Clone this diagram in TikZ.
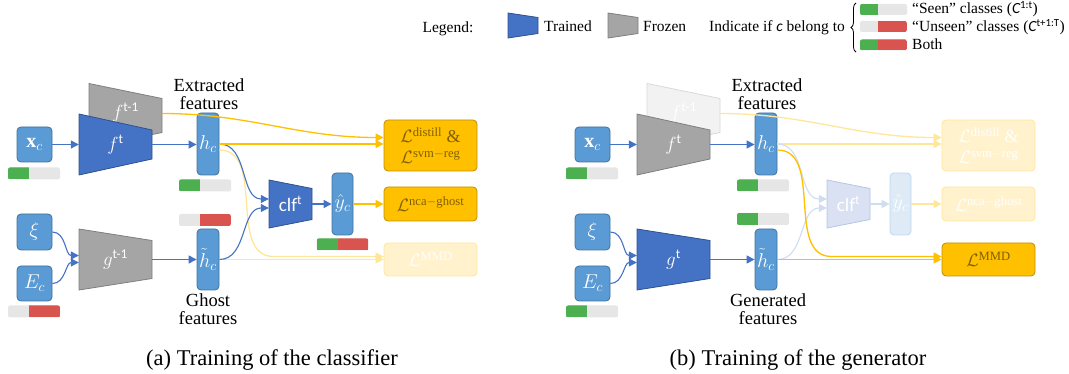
\RequirePackage{fix-cm}
\documentclass[tikz,border=0pt]{standalone}
\usepackage{amsmath}
\usepackage{fontspec}
\setmainfont{Liberation Serif}
\newfontfamily\calibri{Carlito}
\usetikzlibrary{arrows.meta}
\usetikzlibrary{positioning}
\usetikzlibrary{decorations.pathreplacing}

\definecolor{boxblue}{HTML}{5B9BD5}
\definecolor{boxedge}{HTML}{41719C}
\definecolor{trainblue}{HTML}{4472C4}
\definecolor{trainedge}{HTML}{2F528F}
\definecolor{frozgray}{HTML}{A5A5A5}
\definecolor{frozedge}{HTML}{7F7F7F}
\definecolor{lossfill}{HTML}{FFC000}
\definecolor{lossedge}{HTML}{BF9000}
\definecolor{losstext}{HTML}{7F6000}
\definecolor{fadefill}{HTML}{FFF2CC}
\definecolor{fadeedge}{HTML}{FFE699}
\definecolor{fadegrayfill}{HTML}{F2F2F2}
\definecolor{fadegrayedge}{HTML}{D9D9D9}
\definecolor{fadeclffill}{HTML}{D9E1F2}
\definecolor{fadeclfedge}{HTML}{B4C7E7}
\definecolor{fadebluefill}{HTML}{DEEBF7}
\definecolor{fadeblueedge}{HTML}{BDD7EE}
\definecolor{fadeline}{HTML}{D0DCF0}
\definecolor{cgreen}{HTML}{4CAF50}
\definecolor{cred}{HTML}{D9534F}
\definecolor{bargray}{HTML}{E7E6E6}

% trapezoid block: style, name, centre, half width, left half height, right half height, text
\newcommand{\netblock}[7]{%
  \filldraw[#1] #3 ++(-#4,-#5) -- ++(2*#4,#5-#6) -- ++(0,2*#6) -- ++(-2*#4,#5-#6) -- cycle;
  \node[nettext, minimum width=2*#4, minimum height=2*#6] (#2) at #3 {#7};}

\tikzset{
  inbox/.style={draw=boxedge, fill=boxblue, line width=0.8pt, rounded corners=4pt,
    minimum width=35pt, minimum height=35pt, inner sep=0pt, text=white,
    font=\fontsize{20}{20}\selectfont},
  featbox/.style={inbox, minimum width=22pt, minimum height=62pt},
  fadefeat/.style={featbox, draw=fadeblueedge, fill=fadebluefill},
  lossbox/.style={draw=lossedge, fill=lossfill, line width=0.8pt, rounded corners=4pt,
    minimum width=93pt, minimum height=34pt, inner sep=0pt, text=losstext, align=center,
    font=\fontsize{18}{21}\selectfont},
  fadeloss/.style={lossbox, draw=fadeedge, fill=fadefill, text=white},
  nettext/.style={inner sep=0pt, text=white, font=\fontsize{19}{19}\selectfont},
  trained/.style={fill=trainblue, draw=trainedge, line width=0.8pt},
  frozen/.style={fill=frozgray, draw=frozedge, line width=0.8pt},
  fadenet/.style={fill=fadegrayfill, draw=fadegrayedge, line width=0.8pt},
  fadeclf/.style={fill=fadeclffill, draw=fadeclfedge, line width=0.8pt},
  flow/.style={draw=trainblue, line width=1.1pt, -{Triangle[length=8pt,width=8pt]}},
  fadeflow/.style={flow, draw=fadeline},
  lossflow/.style={draw=lossfill, line width=1.3pt, -{Triangle[length=8pt,width=8pt]}},
  fadelossflow/.style={lossflow, draw=fadeedge},
  bar/.style={fill=bargray, rounded corners=2pt, minimum width=52pt, minimum height=12pt,
    inner sep=0pt},
  seen/.style={bar, path picture={\fill[cgreen, sharp corners]
    (path picture bounding box.north west) rectangle ([xshift=#1]path picture bounding box.south west);}},
  seen/.default=21pt,
  unseen/.style={bar, path picture={\fill[cred, sharp corners]
    ([xshift=#1]path picture bounding box.north west) rectangle (path picture bounding box.south east);}},
  unseen/.default=21pt,
  both/.style={bar, path picture={\fill[cgreen, sharp corners]
    (path picture bounding box.north west) rectangle ([xshift=#1]path picture bounding box.south west);
    \fill[cred, sharp corners]
    ([xshift=#1]path picture bounding box.north west) rectangle (path picture bounding box.south east);}},
  both/.default=21pt,
  feattext/.style={align=center, inner sep=0pt, font=\fontsize{18.5}{17.5}\selectfont},
  legtext/.style={inner sep=0pt, font=\fontsize{15.5}{15.5}\selectfont},
  captext/.style={inner sep=0pt, font=\fontsize{22.5}{22.5}\selectfont},
}

\begin{document}
\begin{tikzpicture}[x=1pt, y=-1pt]
  \useasboundingbox (0,0) rectangle (1069,374);

  % legend
  \node[legtext, anchor=base] (leg) at (448,32.5) {Legend:};
  \netblock{trained}{legtrain}{(523,25.5)}{15}{12.5}{8}{};
  \node[legtext, anchor=base west] (legtraintxt) at (544,31.5) {Trained};
  \netblock{frozen}{legfroz}{(623,25.5)}{15}{12.5}{8}{};
  \node[legtext, anchor=base west] (legfroztxt) at (643,31.5) {Frozen};
  \node[legtext, anchor=base east] (legind) at (845,32) {Indicate if {\calibri\itshape c} belong to};
  \draw[line width=0.8pt, decorate, decoration={brace, amplitude=5pt}] (856,52) -- (856,3);
  \node[seen=18pt, minimum width=47pt, minimum height=11pt] (legseen) at (883.5,9.5) {};
  \node[unseen=18pt, minimum width=47pt, minimum height=11pt] (legunseen) at (883.5,26.5) {};
  \node[both=18pt, minimum width=47pt, minimum height=11pt] (legboth) at (883.5,45) {};
  \node[legtext, anchor=base west] (legseentxt) at (912,14)
    {“Seen” classes ({\calibri\itshape C}\textsuperscript{\calibri 1:t})};
  \node[legtext, anchor=base west] (legunseentxt) at (912,32)
    {“Unseen” classes ({\calibri\itshape C}\textsuperscript{\calibri t+1:T})};
  \node[legtext, anchor=base west] (legbothtxt) at (912,50) {Both};

  % (a) training of the classifier
  \node[inbox] (xa) at (34.5,144.5) {$\mathbf{x}_c$};
  \node[seen] (xbara) at (34,173.5) {};
  \node[inbox, minimum height=36pt] (xia) at (34.5,232) {$\xi$};
  \node[inbox] (eca) at (34.5,283.5) {$E_c$};
  \node[unseen] (ecbara) at (34,311.5) {};
  \netblock{frozen}{ftma}{(125.5,115.5)}{36.5}{32}{17}{\raisebox{10pt}{$f^{\text{\calibri t-1}}$}};
  \netblock{trained}{fta}{(115.5,144.5)}{36.5}{30.5}{14.5}{$f^{\text{\calibri t}}$};
  \netblock{frozen}{ga}{(115.5,259.5)}{36.5}{30.5}{19}{$g^{\text{\calibri t-1}}$};
  \node[featbox] (ha) at (208,144) {$h_c$};
  \node[seen] (hbara) at (205,185.5) {};
  \node[unseen] (htbara) at (205,220) {};
  \node[featbox, minimum height=61pt] (hta) at (208,259.5) {$\tilde{h}_c$};
  \node[feattext] (exta) at (209,94) {Extracted\\features};
  \node[feattext] (ghosta) at (208,309) {Ghost\\features};
  \node[fadeloss, minimum height=33pt] (mmda) at (430.5,259.5) {$\mathcal{L}^{\mathrm{MMD}}$};
  \draw[fadelossflow] ([yshift=-6pt]ha.east) to[out=0,in=180] ([xshift=-110pt,yshift=3pt]mmda.west)
    -- ([yshift=3pt]mmda.west);
  \draw[fadelossflow] (hta.east) -- (hta.east -| mmda.west);
  \netblock{trained}{clfa}{(290.5,204)}{21.5}{24}{15.5}{\calibri clf\textsuperscript{t}};
  \node[featbox, minimum width=21pt] (ya) at (342.5,204) {$\hat{y}_c$};
  \node[both] (ybara) at (342.5,244.5) {};
  \node[lossbox, minimum height=51pt] (dista) at (430.5,145.5)
    {$\mathcal{L}^{\mathrm{distill}}$ \&\\$\mathcal{L}^{\mathrm{svm-reg}}$};
  \node[lossbox] (ncaa) at (430.5,204) {$\mathcal{L}^{\mathrm{nca-ghost}}$};

  \draw[flow] (xa.east) -- (fta.west);
  \draw[flow] (fta.east) -- (fta.east -| ha.west);
  \draw[flow] (xia.east) to[out=0,in=180] ([yshift=4pt]ga.west);
  \draw[flow] (eca.east) to[out=0,in=180] ([yshift=-3pt]ga.west);
  \draw[flow] (ga.east) -- (hta.west);
  \draw[flow] (ha.east) to[out=0,in=180] ([yshift=5pt]clfa.west);
  \draw[flow] (hta.east) to[out=0,in=180] ([yshift=-4pt]clfa.west);
  \draw[flow] (clfa.east) -- (ya.west);
  \draw[lossflow] ([yshift=2pt]ftma.east) to[out=0,in=180] ([yshift=8pt]dista.west);
  \draw[lossflow] (ha.east) -- (ha.east -| dista.west);
  \draw[lossflow] (ya.east) -- (ncaa.west);

  \node[captext, anchor=base] (capa) at (272,365) {(a) Training of the classifier};

  % (b) training of the generator
  \begin{scope}[xshift=558pt]
    \node[inbox] (xb) at (34.5,144.5) {$\mathbf{x}_c$};
    \node[seen] (xbarb) at (34,173.5) {};
    \node[inbox, minimum height=36pt] (xib) at (34.5,232) {$\xi$};
    \node[inbox] (ecb) at (34.5,283.5) {$E_c$};
    \node[seen] (ecbarb) at (34,311.5) {};
    \netblock{fadenet}{ftmb}{(125.5,115.5)}{36.5}{32}{17}{\raisebox{10pt}{$f^{\text{\calibri t-1}}$}};
    \netblock{frozen}{ftb}{(115.5,144.5)}{36.5}{30.5}{14.5}{$f^{\text{\calibri t}}$};
    \netblock{trained}{gb}{(115.5,259.5)}{36.5}{30.5}{19}{$g^{\text{\calibri t}}$};
    \node[featbox] (hb) at (208,144) {$h_c$};
    \node[seen] (hbarb) at (205,185.5) {};
    \node[seen] (htbarb) at (205,219) {};
    \node[featbox, minimum height=61pt] (htb) at (208,259.5) {$\tilde{h}_c$};
    \node[feattext] (extb) at (209,94) {Extracted\\features};
    \node[feattext] (genb) at (210,309) {Generated\\features};
    \node[fadeloss, minimum height=51pt] (distb) at (430.5,145.5)
      {$\mathcal{L}^{\mathrm{distill}}$ \&\\$\mathcal{L}^{\mathrm{svm-reg}}$};
    \node[fadeloss] (ncab) at (430.5,204) {$\mathcal{L}^{\mathrm{nca-ghost}}$};
    \node[lossbox, minimum height=33pt] (mmdb) at (430.5,259.5) {$\mathcal{L}^{\mathrm{MMD}}$};
    \draw[fadelossflow] ([yshift=2pt]ftmb.east) to[out=0,in=180] ([yshift=8pt]distb.west);
    \draw[fadelossflow] (hb.east) -- (hb.east -| distb.west);
    \netblock{fadeclf}{clfb}{(290.5,204)}{21.5}{24}{15.5}{\calibri clf\textsuperscript{t}};
    \node[fadefeat, minimum width=21pt] (yb) at (342.5,204) {$\hat{y}_c$};
    \draw[fadeflow] (hb.east) to[out=0,in=180] ([yshift=5pt]clfb.west);
    \draw[fadeflow] (htb.east) to[out=0,in=180] ([yshift=-4pt]clfb.west);
    \draw[fadeflow] (clfb.east) -- (yb.west);
    \draw[fadelossflow] (yb.east) -- (ncab.west);

    \draw[flow] (xb.east) -- (ftb.west);
    \draw[flow] (ftb.east) -- (ftb.east -| hb.west);
    \draw[flow] (xib.east) to[out=0,in=180] ([yshift=4pt]gb.west);
    \draw[flow] (ecb.east) to[out=0,in=180] ([yshift=-3pt]gb.west);
    \draw[flow] (gb.east) -- (htb.west);
    \draw[lossflow] ([yshift=-6pt]hb.east) to[out=0,in=180] ([xshift=-110pt,yshift=3pt]mmdb.west)
      -- ([yshift=3pt]mmdb.west);
    \draw[lossflow] (htb.east) -- (htb.east -| mmdb.west);
  \end{scope}

  \node[captext, anchor=base] (capb) at (798,365) {(b) Training of the generator};
\end{tikzpicture}
\end{document}
